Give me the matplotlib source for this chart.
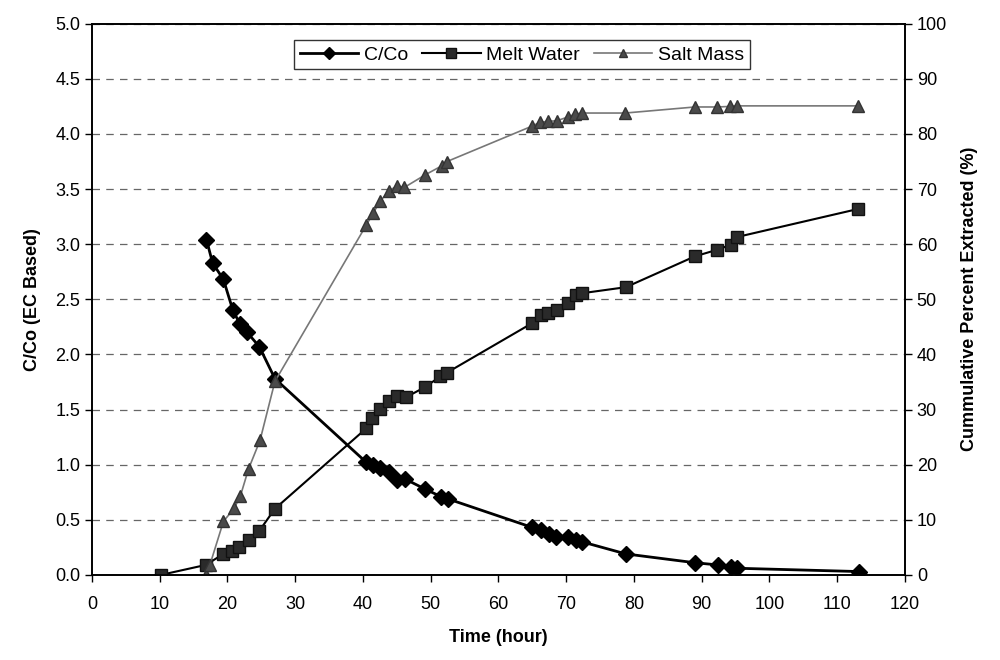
import matplotlib.pyplot as plt
from matplotlib.ticker import MultipleLocator, FormatStrFormatter

plt.rcParams['font.family'] = ['Liberation Sans', 'DejaVu Sans']

# C/Co concentration ratio (left axis)
t_c = [16.9, 17.8, 19.4, 20.8, 21.8, 22.9, 24.7, 27.0, 40.5, 41.5, 42.5, 43.9,
       45.0, 46.2, 49.1, 51.5, 52.5, 65.0, 66.3, 67.4, 68.5, 70.3, 71.4, 72.3,
       78.8, 89.0, 92.4, 94.3, 95.2, 113.2]
c_co = [3.04, 2.83, 2.68, 2.40, 2.28, 2.20, 2.07, 1.78, 1.02, 1.00, 0.97, 0.93,
        0.86, 0.87, 0.78, 0.71, 0.69, 0.43, 0.41, 0.37, 0.34, 0.34, 0.32, 0.30,
        0.19, 0.11, 0.09, 0.075, 0.06, 0.03]

# cumulative melt water extracted, % (right axis)
t_melt = [10.2, 16.8, 19.4, 20.6, 21.7, 23.1, 24.7, 27.0, 40.5, 41.4, 42.5, 43.9,
          45.0, 46.3, 49.2, 51.4, 52.4, 65.0, 66.3, 67.3, 68.6, 70.3, 71.5, 72.3,
          78.8, 89.0, 92.3, 94.3, 95.2, 113.1]
melt = [0, 1.8, 3.8, 4.4, 5.1, 6.4, 8.0, 12.0, 26.6, 28.4, 30.1, 31.6,
        32.4, 32.2, 34.1, 36.0, 36.7, 45.7, 47.2, 47.5, 48.1, 49.3, 50.8, 51.1,
        52.2, 57.8, 59.0, 59.9, 61.3, 66.4]

# cumulative salt mass extracted, % (right axis)
t_salt = [16.8, 17.4, 19.4, 21.0, 21.9, 23.1, 24.8, 27.0, 40.5, 41.5, 42.5, 43.9,
          45.0, 46.1, 49.2, 51.6, 52.4, 64.9, 66.1, 67.3, 68.6, 70.3, 71.3, 72.3,
          78.7, 89.0, 92.3, 94.2, 95.2, 113.1]
salt = [0, 1.8, 9.7, 12.1, 14.3, 19.2, 24.4, 35.1, 63.5, 65.6, 67.8, 69.7,
        70.6, 70.3, 72.6, 74.2, 75.0, 81.4, 82.1, 82.3, 82.4, 83.1, 83.6, 83.8,
        83.8, 84.9, 84.9, 85.0, 85.1, 85.1]

fig = plt.figure(figsize=(10, 6.6), dpi=100)
ax = fig.add_axes([0.092, 0.129, 0.813, 0.835])
ax2 = ax.twinx()

l1, = ax.plot(t_c, c_co, color='black', lw=2, marker='D', ms=8,
              markerfacecolor='black', markeredgecolor='black', label='C/Co', zorder=5)
l2, = ax2.plot(t_melt, melt, color='black', lw=1.5, marker='s', ms=9,
               markerfacecolor='#2a2a2a', markeredgecolor='#111111', label='Melt Water')
l3, = ax2.plot(t_salt, salt, color='#777777', lw=1.2, marker='^', ms=8,
               markerfacecolor='#4a4a4a', markeredgecolor='#333333', label='Salt Mass')

ax.set_xlim(0, 120)
ax.set_ylim(0, 5)
ax2.set_ylim(0, 100)
ax.xaxis.set_major_locator(MultipleLocator(10))
ax.yaxis.set_major_locator(MultipleLocator(0.5))
ax.yaxis.set_major_formatter(FormatStrFormatter('%.1f'))
ax2.yaxis.set_major_locator(MultipleLocator(10))

ax.grid(axis='y', linestyle=(0, (6, 5)), color='#666666', lw=0.9)
ax.set_axisbelow(True)

for a in (ax, ax2):
    a.tick_params(labelsize=13, direction='out', length=5, width=1)
    for s in a.spines.values():
        s.set_linewidth(1.2)
ax.tick_params(axis='x', pad=10)

ax.set_xlabel('Time (hour)', fontsize=13, fontweight='bold', labelpad=12)
ax.set_ylabel('C/Co (EC Based)', fontsize=13, fontweight='bold', labelpad=10)
ax2.set_ylabel('Cummulative Percent Extracted (%)', fontsize=13, fontweight='bold',
               labelpad=10)

leg = ax.legend(handles=[l1, l2, l3], ncol=3, loc='upper center',
                bbox_to_anchor=(0.529, 0.988), fontsize=14, frameon=True,
                fancybox=False, edgecolor='black', handlelength=3.0,
                columnspacing=0.7, handletextpad=0.3, borderpad=0.3,
                markerscale=0.75)
leg.get_frame().set_linewidth(1)
leg.set_zorder(10)

fig.savefig('out.png', dpi=100)
